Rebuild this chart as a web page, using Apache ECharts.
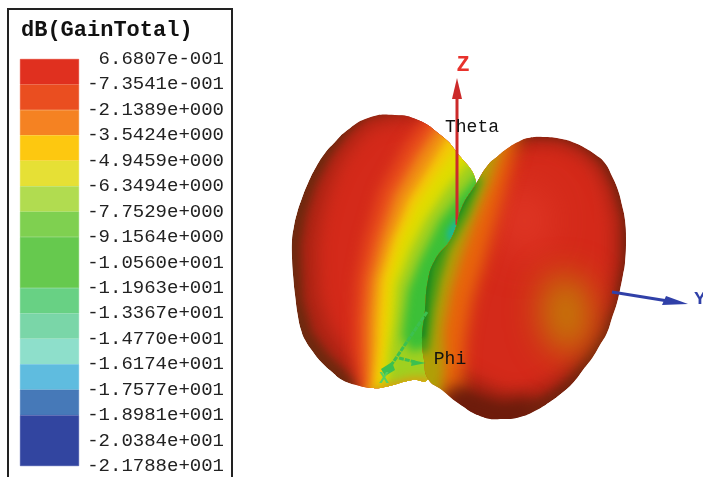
<!DOCTYPE html>
<html>
<head>
<meta charset="utf-8">
<style>
  html, body { margin: 0; padding: 0; background: #fff; overflow: hidden; }
  #chart { width: 703px; height: 477px; }
</style>
<script src="https://cdn.jsdelivr.net/npm/echarts@6/dist/echarts.min.js"></script>
</head>
<body>
<div id="chart"></div>
<script>
// scale labels, top to bottom
const tickLabels = [
  "6.6807e-001", "-7.3541e-001", "-2.1389e+000", "-3.5424e+000", "-4.9459e+000",
  "-6.3494e+000", "-7.7529e+000", "-9.1564e+000", "-1.0560e+001", "-1.1963e+001",
  "-1.3367e+001", "-1.4770e+001", "-1.6174e+001", "-1.7577e+001", "-1.8981e+001",
  "-2.0384e+001", "-2.1788e+001",
];
// how many label steps each colour block covers
const scaleSpans = [1, 1, 1, 1, 1, 1, 1, 2, 1, 1, 1, 1, 1, 2];
const scaleColors = [
  "#e0301f", "#ea4e20", "#f58222", "#fdc810", "#e6e035", "#b1dc50", "#7fd050", "#66c94e",
  "#68d184", "#7ad6a8", "#8edfcb", "#5fbcdf", "#4679b8", "#3245a0",
];

// pattern outlines and gain contours
const leftOutline = [[395,115],[368,118],[345,132],[335,142],[325,153],[316,167],[308,183],[302,198],[297,213],[294,226],[292,240],[292,258],[293,275],[295,295],[298,317],[301,330],[305,340],[313,352],[322,363],[332,372],[342,380],[356,385],[372,388],[385,387],[412,380],[428,379],[445,330],[470,250],[477,187],[455,150],[438,133],[418,120]];
const leftDarkRed = [[395,113],[368,117],[350,132],[332,155],[316,185],[306,215],[301,245],[303,300],[312,332],[328,354],[350,374],[372,392],[440,392],[490,300],[490,105]];
const leftRed = [[395,120],[370,126],[355,141],[340,162],[328,190],[320,220],[316,250],[318,295],[328,326],[345,352],[362,376],[375,400],[480,400],[490,115]];
const leftOrangeRed = [[432,110],[405,145],[380,190],[365,240],[357,280],[355,320],[355,350],[360,400],[500,400],[500,110]];
const leftOrange = [[442,120],[418,155],[395,195],[380,240],[370,280],[367,320],[367,350],[368,400],[500,400],[500,120]];
const leftGold = [[450,132],[430,165],[408,200],[392,240],[380,280],[377,320],[376,350],[372,400],[500,400],[500,132]];
const leftYellow = [[458,145],[436,175],[416,205],[400,240],[389,280],[386,320],[384,350],[378,400],[500,400],[500,145]];
const leftLime = [[470,160],[445,190],[425,220],[410,250],[397,285],[394,320],[390,350],[386,400],[500,400],[500,160]];
const leftGreen = [[480,172],[460,195],[440,220],[420,260],[408,290],[404,320],[402,338],[412,352],[432,345],[500,300],[500,172]];
const leftTeal = [[447,232],[455,220],[462,218],[456,236],[449,244]];
const leftBottomRim = [[362,392],[385,384],[410,377],[432,377],[432,400],[362,400]];

const rightOutline = [[476,184],[488,165],[498,156],[508,148],[518,142],[528,138],[545,137],[562,139],[575,143],[585,148],[596,155],[605,163],[612,176],[618,190],[622,205],[625,220],[626,240],[625,263],[623,275],[620,290],[617,303],[612,318],[607,333],[600,345],[593,357],[583,370],[573,383],[562,393],[550,402],[535,411],[520,417],[503,419],[483,417],[458,403],[442,390],[428,379],[424,360],[422,340],[425,310],[428,280],[435,260],[452,237],[462,207]];
const rightDarkRed = [[490,170],[510,149],[530,139],[560,140],[583,149],[600,164],[612,188],[621,220],[621,263],[613,303],[601,333],[586,355],[566,378],[545,394],[518,405],[500,407],[480,400],[455,385],[430,370],[430,170]];
const rightRed = [[490,175],[512,154],[532,145],[558,146],[580,155],[596,171],[606,193],[613,222],[613,263],[606,300],[592,332],[575,358],[552,380],[525,392],[500,390],[480,380],[440,360],[440,175]];
const rightOrange = [[522,130],[507,180],[495,222],[484,262],[472,300],[465,340],[462,395],[410,395],[410,130]];
const rightOlive = [[505,135],[490,180],[473,222],[460,258],[450,292],[443,330],[444,370],[442,398],[410,398],[410,135]];
const rightGreen = [[483,178],[468,215],[449,250],[440,280],[434,310],[431,335],[428,352],[410,352],[410,178]];
const rightCrease = [[474,186],[460,214],[444,243],[433,268],[429,295],[427,320],[425,338],[415,338],[415,186]];
const rightBrightSpot = [[510,190],[540,190],[550,225],[535,255],[510,250],[500,220]];
const rightDullSpot = [[552,274],[582,280],[592,310],[587,348],[560,354],[542,328],[542,296]];
const rightBottomShade = [[450,385],[478,395],[505,402],[530,396],[530,430],[450,430]];

// axes of the pattern
const zAxisLine = [[457,225],[457,95]];
const zAxisHead = [[457,78],[462,99],[452,99]];
const yAxisLine = [[612,292],[668,301]];
const yAxisHead = [[688,304],[662,305],[666,296]];
const xAxisLine = [[427,312],[390,367]];
const xAxisHead = [[385,376],[381,369],[392,362],[395,370]];
const phiLine = [[399,358],[415,362]];
const phiHead = [[426,363],[411,366],[412,360]];

const axisNames = [
  { name: "Z", pos: [463, 65], color: "#e8322c", font: "bold 22px 'Liberation Mono'" },
  { name: "Theta", pos: [472, 127], color: "#111", font: "18px 'Liberation Mono'" },
  { name: "Phi", pos: [450, 359], color: "#111", font: "18px 'Liberation Mono'" },
  { name: "Y", pos: [700, 299], color: "#3040a8", font: "bold 19px 'Liberation Mono'" },
  { name: "X", pos: [384, 379], color: "#55d060", font: "bold 16px 'Liberation Mono'" },
];

const chart = echarts.init(document.getElementById("chart"));
const FAR = 1500;

// only the shadow of the shape lands in view, which gives a soft edged colour layer
function softLayer(api, points, color, blur) {
  return {
    type: "polygon",
    x: -FAR,
    shape: { points: points.map((p) => api.coord(p)) },
    style: { fill: color, shadowColor: color, shadowBlur: blur, shadowOffsetX: FAR },
  };
}

function lobeSeries(outline, baseColor, layers) {
  return {
    type: "custom",
    coordinateSystem: "cartesian2d",
    xAxisIndex: 0,
    yAxisIndex: 0,
    silent: true,
    data: [[0, 0]],
    renderItem: (params, api) => {
      const pts = outline.map((p) => api.coord(p));
      return {
        type: "group",
        clipPath: { type: "polygon", shape: { points: pts, smooth: 0.5 } },
        children: [
          { type: "polygon", shape: { points: pts, smooth: 0.5 }, style: { fill: baseColor } },
        ].concat(layers.map((l) => softLayer(api, l[0], l[1], l[2]))),
      };
    },
  };
}

function shapeSeries(lines, heads, color, width, dash) {
  return {
    type: "custom",
    coordinateSystem: "cartesian2d",
    xAxisIndex: 0,
    yAxisIndex: 0,
    silent: true,
    data: [[0, 0]],
    renderItem: (params, api) => ({
      type: "group",
      children: lines
        .map((l) => ({
          type: "polyline",
          shape: { points: l.map((p) => api.coord(p)) },
          style: { stroke: color, lineWidth: width, fill: null, lineDash: dash || null },
        }))
        .concat(
          heads.map((h) => ({
            type: "polygon",
            shape: { points: h.map((p) => api.coord(p)) },
            style: { fill: color },
          }))
        ),
    }),
  };
}

const option = {
  animation: false,
  backgroundColor: "#fff",
  title: {
    text: "dB(GainTotal)",
    left: 21,
    top: 19,
    padding: 0,
    textStyle: { fontFamily: "Liberation Mono", fontSize: 22, fontWeight: "bold", color: "#111" },
  },
  graphic: [
    {
      type: "rect",
      shape: { x: 8, y: 9, width: 224, height: 490 },
      style: { fill: null, stroke: "#222", lineWidth: 2 },
      silent: true,
    },
  ],
  grid: [
    { left: 0, top: 0, right: 0, bottom: 0 },
    { left: 20, top: 59, width: 59, height: 407 },
  ],
  xAxis: [
    { type: "value", min: 0, max: 703, show: false, gridIndex: 0 },
    { type: "category", data: ["dB"], show: false, gridIndex: 1 },
  ],
  yAxis: [
    { type: "value", min: 0, max: 477, inverse: true, show: false, gridIndex: 0 },
    {
      type: "value",
      gridIndex: 1,
      min: 0,
      max: 16,
      interval: 1,
      inverse: true,
      position: "right",
      axisLine: { show: false },
      axisTick: { show: false },
      splitLine: { show: false },
      axisLabel: {
        align: "right",
        margin: 145,
        padding: [3, 0, 0, 0],
        fontFamily: "Liberation Mono",
        fontSize: 19,
        color: "#222",
        showMinLabel: true,
        showMaxLabel: true,
        hideOverlap: false,
        formatter: (v) => tickLabels[v],
      },
    },
  ],
  series: [
    ...scaleColors.map((c, i) => ({
      type: "bar",
      xAxisIndex: 1,
      yAxisIndex: 1,
      stack: "scale",
      barWidth: 59,
      silent: true,
      itemStyle: { color: c, borderColor: c, borderWidth: 0.5 },
      data: [scaleSpans[i]],
    })),
    lobeSeries(leftOutline, "#6e2a10", [
      [leftDarkRed, "#a82414", 10],
      [leftRed, "#d42a1a", 18],
      [leftOrangeRed, "#e84d1c", 14],
      [leftOrange, "#f09014", 12],
      [leftGold, "#f4c808", 10],
      [leftYellow, "#e0dc00", 10],
      [leftLime, "#a0d020", 10],
      [leftGreen, "#3cc038", 10],
      [leftTeal, "#18b8a0", 6],
      [leftBottomRim, "#d8a010", 8],
    ]),
    shapeSeries([zAxisLine], [zAxisHead], "#cc2a2a", 3),
    lobeSeries(rightOutline, "#762410", [
      [rightDarkRed, "#a82414", 10],
      [rightRed, "#d42a1a", 16],
      [rightBrightSpot, "#e23a28", 40],
      [rightDullSpot, "#c47a08", 34],
      [rightOrange, "#e8660c", 16],
      [rightOlive, "#b0a008", 12],
      [rightGreen, "#3f9a18", 8],
      [rightCrease, "#1e8a20", 4],
      [rightBottomShade, "#6e1c0c", 16],
    ]),
    shapeSeries([yAxisLine], [yAxisHead], "#3040a8", 3),
    shapeSeries([xAxisLine, phiLine], [xAxisHead, phiHead], "#3cc050", 3, [5, 1]),
    {
      type: "custom",
      coordinateSystem: "cartesian2d",
      xAxisIndex: 0,
      yAxisIndex: 0,
      silent: true,
      data: [[0, 0]],
      renderItem: (params, api) => ({
        type: "group",
        children: axisNames.map((a) => {
          const p = api.coord(a.pos);
          return {
            type: "text",
            x: p[0],
            y: p[1],
            style: { text: a.name, font: a.font, fill: a.color, textAlign: "center", textVerticalAlign: "middle" },
          };
        }),
      }),
    },
  ],
};

chart.setOption(option);
</script>
</body>
</html>
